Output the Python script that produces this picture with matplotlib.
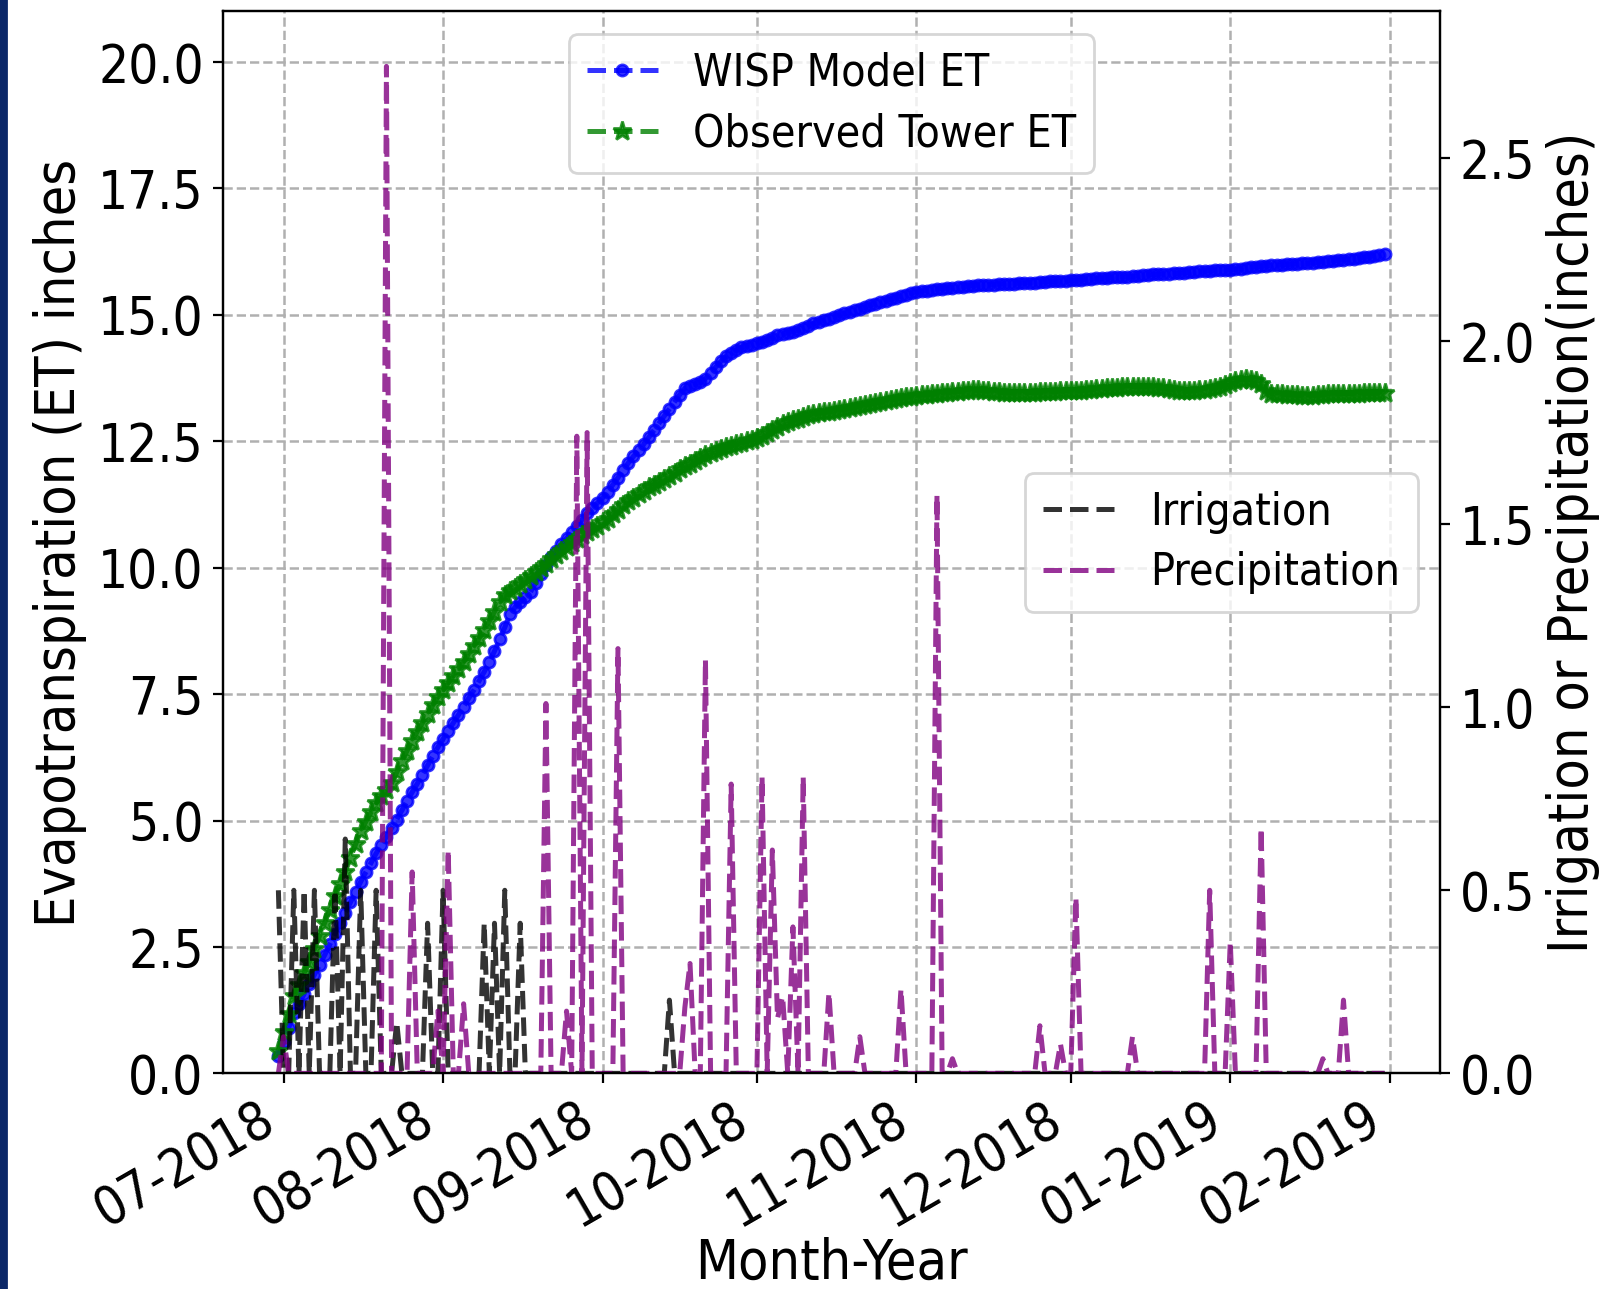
import matplotlib
matplotlib.use('Agg')
import matplotlib.pyplot as plt
import matplotlib.dates as mdates
from matplotlib.patches import Rectangle
from matplotlib import font_manager
import numpy as np
import pandas as pd

# daily dates, 2018-06-30 .. 2019-01-31
dates = pd.date_range('2018-06-30', '2019-01-31', freq='D')

# cumulative ET (inches), one value per day
wisp_et = [
    0.35, 0.62, 0.90, 1.19, 1.38, 1.57, 1.76, 1.95, 2.14, 2.34,
    2.55, 2.76, 2.97, 3.18, 3.38, 3.59, 3.79, 3.98, 4.16, 4.35,
    4.52, 4.68, 4.85, 5.02, 5.20, 5.38, 5.56, 5.73, 5.91, 6.09,
    6.27, 6.45, 6.61, 6.77, 6.93, 7.09, 7.25, 7.42, 7.58, 7.76,
    7.94, 8.13, 8.35, 8.58, 8.82, 9.08, 9.22, 9.32, 9.42, 9.52,
    9.70, 9.88, 10.06, 10.22, 10.34, 10.46, 10.58, 10.70, 10.83, 10.95,
    11.08, 11.18, 11.28, 11.38, 11.50, 11.64, 11.78, 11.93, 12.07, 12.20,
    12.32, 12.44, 12.58, 12.72, 12.86, 13.00, 13.14, 13.28, 13.42, 13.55,
    13.60, 13.63, 13.67, 13.74, 13.85, 13.97, 14.08, 14.18, 14.25, 14.31,
    14.36, 14.39, 14.41, 14.44, 14.46, 14.50, 14.55, 14.60, 14.62, 14.65,
    14.67, 14.70, 14.74, 14.78, 14.83, 14.86, 14.89, 14.92, 14.95, 14.99,
    15.03, 15.06, 15.09, 15.12, 15.15, 15.19, 15.22, 15.25, 15.28, 15.31,
    15.34, 15.37, 15.40, 15.43, 15.46, 15.47, 15.48, 15.50, 15.51, 15.52,
    15.53, 15.54, 15.55, 15.56, 15.57, 15.58, 15.59, 15.59, 15.60, 15.60,
    15.61, 15.61, 15.62, 15.62, 15.63, 15.63, 15.64, 15.64, 15.65, 15.65,
    15.66, 15.66, 15.67, 15.67, 15.68, 15.68, 15.69, 15.70, 15.71, 15.72,
    15.73, 15.73, 15.74, 15.74, 15.75, 15.75, 15.76, 15.77, 15.78, 15.79,
    15.80, 15.80, 15.81, 15.81, 15.82, 15.82, 15.83, 15.84, 15.85, 15.86,
    15.87, 15.87, 15.88, 15.88, 15.88, 15.89, 15.90, 15.91, 15.93, 15.94,
    15.95, 15.96, 15.97, 15.98, 15.98, 15.99, 16.00, 16.00, 16.01, 16.02,
    16.02, 16.03, 16.04, 16.05, 16.06, 16.07, 16.08, 16.09, 16.10, 16.11,
    16.12, 16.14, 16.15, 16.17, 16.18, 16.20,
]

tower_et = [
    0.45, 0.82, 1.18, 1.52, 1.75, 1.98, 2.20, 2.45, 2.72, 2.98,
    3.24, 3.50, 3.74, 3.99, 4.26, 4.53, 4.79, 4.98, 5.16, 5.34,
    5.48, 5.61, 5.74, 5.95, 6.17, 6.38, 6.58, 6.76, 6.93, 7.10,
    7.28, 7.45, 7.58, 7.72, 7.86, 8.00, 8.14, 8.30, 8.45, 8.60,
    8.76, 8.94, 9.13, 9.32, 9.46, 9.53, 9.59, 9.67, 9.75, 9.84,
    9.92, 10.00, 10.08, 10.17, 10.25, 10.33, 10.41, 10.48, 10.56, 10.64,
    10.71, 10.77, 10.83, 10.90, 10.97, 11.06, 11.14, 11.23, 11.31, 11.38,
    11.45, 11.52, 11.59, 11.64, 11.70, 11.76, 11.82, 11.88, 11.95, 12.01,
    12.06, 12.11, 12.16, 12.22, 12.27, 12.31, 12.35, 12.38, 12.41, 12.44,
    12.47, 12.50, 12.53, 12.57, 12.61, 12.66, 12.72, 12.78, 12.84, 12.89,
    12.92, 12.95, 12.98, 13.01, 13.03, 13.05, 13.07, 13.08, 13.09, 13.11,
    13.13, 13.15, 13.17, 13.19, 13.21, 13.23, 13.25, 13.27, 13.29, 13.31,
    13.33, 13.35, 13.37, 13.38, 13.40, 13.41, 13.42, 13.43, 13.44, 13.45,
    13.46, 13.47, 13.48, 13.49, 13.50, 13.51, 13.51, 13.50, 13.49, 13.48,
    13.47, 13.46, 13.46, 13.45, 13.45, 13.45, 13.46, 13.46, 13.47, 13.47,
    13.48, 13.48, 13.49, 13.49, 13.50, 13.50, 13.50, 13.51, 13.52, 13.53,
    13.54, 13.55, 13.56, 13.56, 13.57, 13.57, 13.58, 13.58, 13.58, 13.58,
    13.57, 13.56, 13.55, 13.53, 13.51, 13.50, 13.49, 13.49, 13.50, 13.51,
    13.52, 13.54, 13.56, 13.58, 13.62, 13.66, 13.69, 13.72, 13.73, 13.72,
    13.69, 13.63, 13.50, 13.44, 13.43, 13.43, 13.42, 13.42, 13.41, 13.40,
    13.40, 13.40, 13.41, 13.42, 13.43, 13.43, 13.44, 13.44, 13.44, 13.44,
    13.44, 13.45, 13.45, 13.45, 13.45, 13.45,
]

# irrigation events (inches); every other day is 0
irr_dates = ['2018-06-30', '2018-07-03', '2018-07-05', '2018-07-07', '2018-07-11',
             '2018-07-13', '2018-07-16', '2018-07-19', '2018-07-23', '2018-07-29',
             '2018-08-01', '2018-08-09', '2018-08-11', '2018-08-13', '2018-08-16',
             '2018-09-14']
irr_inches = [0.50, 0.50, 0.50, 0.50, 0.50,
              0.64, 0.50, 0.50, 0.14, 0.41,
              0.50, 0.41, 0.41, 0.50, 0.41,
              0.20]

# precipitation events (inches); every other day is 0
rain_dates = ['2018-07-01', '2018-07-21', '2018-07-26', '2018-07-31', '2018-08-02',
              '2018-08-05', '2018-08-21', '2018-08-25', '2018-08-27', '2018-08-29',
              '2018-09-04', '2018-09-17', '2018-09-18', '2018-09-21', '2018-09-26',
              '2018-10-02', '2018-10-04', '2018-10-05', '2018-10-06', '2018-10-08',
              '2018-10-10', '2018-10-15', '2018-10-21', '2018-10-29', '2018-11-05',
              '2018-11-08', '2018-11-25', '2018-11-29', '2018-12-02', '2018-12-13',
              '2018-12-28', '2019-01-01', '2019-01-07', '2019-01-19', '2019-01-23']
rain_inches = [0.10, 2.75, 0.55, 0.17, 0.61,
               0.19, 1.01, 0.17, 1.74, 1.75,
               1.16, 0.18, 0.30, 1.13, 0.79,
               0.81, 0.61, 0.15, 0.21, 0.40,
               0.81, 0.22, 0.10, 0.23, 1.58,
               0.04, 0.13, 0.08, 0.48, 0.10,
               0.50, 0.36, 0.67, 0.04, 0.20]

irrigation = pd.Series(irr_inches, index=pd.to_datetime(irr_dates)).reindex(dates, fill_value=0.0)
precipitation = pd.Series(rain_inches, index=pd.to_datetime(rain_dates)).reindex(dates, fill_value=0.0)

# narrower text, as in the picture (falls back to normal width if missing)
names = [f.name + '|' + str(f.stretch) for f in font_manager.fontManager.ttflist]
if any(n.startswith('DejaVu Sans|condensed') or n.startswith('DejaVu Sans|semi-condensed') for n in names):
    plt.rcParams['font.stretch'] = 'condensed'

fs_tick = 19
fs_lab = 20
fs_leg = 16
fig = plt.figure(figsize=(8.03, 6.445), dpi=200)
ax1 = fig.add_axes([0.1389, 0.1673, 0.7577, 0.8238])

ax1.plot(dates, wisp_et, color='blue', linestyle='--', marker='.', markersize=8,
         linewidth=1.8, alpha=0.8, label='WISP Model ET')
ax1.plot(dates, tower_et, color='green', linestyle='--', marker='*', markersize=7,
         linewidth=1.8, alpha=0.8, label='Observed Tower ET')
ax1.set_ylim(0, 21)
ax1.set_yticks(np.arange(0, 20.1, 2.5))
ax1.grid(True, linestyle='--', linewidth=0.9)
ax1.set_ylabel('Evapotranspiration (ET) inches', fontsize=fs_lab, labelpad=4)
ax1.set_xlabel('Month-Year', fontsize=fs_lab, labelpad=0)
ax1.xaxis.set_major_locator(mdates.MonthLocator())
ax1.xaxis.set_major_formatter(mdates.DateFormatter('%m-%Y'))
ax1.tick_params(labelsize=fs_tick)
for lab in ax1.get_xticklabels():
    lab.set_rotation(30)
    lab.set_ha('right')
ax1.legend(loc='upper center', fontsize=fs_leg, handlelength=1.6, labelspacing=0.4)

ax2 = ax1.twinx()
ax2.plot(dates, irrigation, color='black', linestyle='--', linewidth=1.8, alpha=0.8, label='Irrigation')
ax2.plot(dates, precipitation, color='purple', linestyle='--', linewidth=1.8, alpha=0.8, label='Precipitation')
ax2.set_ylim(0, 2.9)
ax2.set_ylabel('Irrigation or Precipitation(inches)', fontsize=fs_lab)
ax2.tick_params(labelsize=fs_tick)
ax2.legend(loc='center right', fontsize=fs_leg, handlelength=1.6, labelspacing=0.4)

# dark frame strip on the left edge
fig.patches.append(Rectangle((0, 0), 6 / 1606, 1, transform=fig.transFigure,
                             color='#0b2768', zorder=10))

fig.savefig('out.png', dpi=200)
